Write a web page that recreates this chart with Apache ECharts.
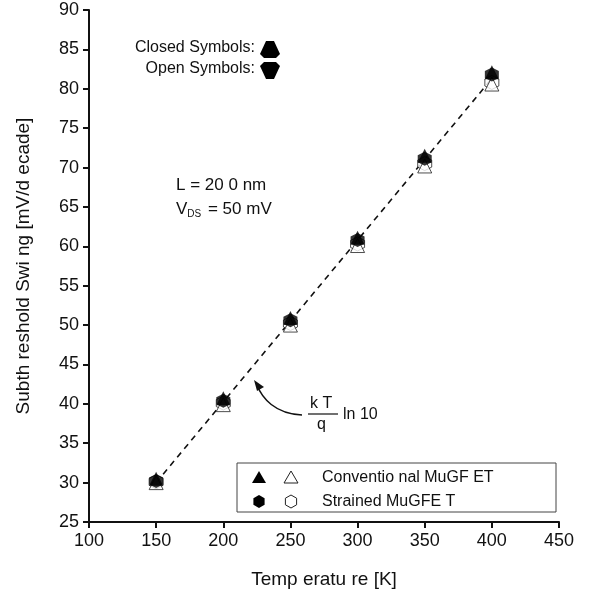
<!DOCTYPE html>
<html>
<head>
<meta charset="utf-8">
<script src="https://cdn.jsdelivr.net/npm/echarts@6/dist/echarts.min.js"></script>
<style>
  html, body { margin: 0; padding: 0; background: #fff; }
  #chart { width: 593px; height: 598px; }
</style>
</head>
<body>
<div id="chart"></div>
<script>
// data
var temps = [150, 200, 250, 300, 350, 400];
var convClosed = [30.5, 40.7, 50.9, 61.1, 71.5, 82.1];
var strainedClosed = [30.2, 40.4, 50.6, 60.8, 71.1, 81.8];
var convOpen = [30.0, 39.9, 50.0, 60.1, 70.2, 80.6];
var strainedOpen = [30.1, 40.1, 50.2, 60.3, 70.5, 80.8];
var fitX = [150, 400];
var fitY = [30.0, 81.3];

var hexagon = 'path://M0,-10 L8.66,-5 L8.66,5 L0,10 L-8.66,5 L-8.66,-5 Z';
var font = 'Liberation Sans, Arial, sans-serif';

function pairs(xs, ys) {
    return xs.map(function (x, i) { return [x, ys[i]]; });
}

var myChart = echarts.init(document.getElementById('chart'));

var option = {
    animation: false,
    backgroundColor: '#fff',
    grid: { left: 89, right: 34, top: 10, bottom: 76 },
    xAxis: {
        type: 'value', min: 100, max: 450, interval: 50,
        name: 'Temp eratu re [K]', nameLocation: 'middle', nameGap: 48,
        nameTextStyle: { fontFamily: font, fontSize: 19, color: '#111' },
        axisLine: { onZero: false, lineStyle: { color: '#111', width: 2 } },
        axisTick: { show: true, length: 6, lineStyle: { color: '#111', width: 2 } },
        axisLabel: { fontFamily: font, fontSize: 18, color: '#111', margin: 10 },
        splitLine: { show: false }
    },
    yAxis: {
        type: 'value', min: 25, max: 90, interval: 5,
        name: 'Subth reshold Swi ng [mV/d ecade]', nameLocation: 'middle', nameGap: 56,
        nameTextStyle: { fontFamily: font, fontSize: 19, color: '#111' },
        axisLine: { show: true, onZero: false, lineStyle: { color: '#111', width: 2 } },
        axisTick: { show: true, length: 6, lineStyle: { color: '#111', width: 2 } },
        axisLabel: { fontFamily: font, fontSize: 18, color: '#111', margin: 10 },
        splitLine: { show: false }
    },
    series: [
        {
            type: 'line', data: pairs(fitX, fitY), symbol: 'none', z: 1,
            lineStyle: { color: '#111', width: 1.6, type: [6, 5] }
        },
        {
            type: 'scatter', data: pairs(temps, strainedOpen), symbol: hexagon, symbolSize: 14, z: 2,
            itemStyle: { color: '#fff', borderColor: '#222', borderWidth: 1 }
        },
        {
            type: 'scatter', data: pairs(temps, convOpen), symbol: 'triangle', symbolSize: 14, z: 3,
            itemStyle: { color: '#fff', borderColor: '#222', borderWidth: 1 }
        },
        {
            type: 'scatter', data: pairs(temps, strainedClosed), symbol: hexagon, symbolSize: 14, z: 4,
            itemStyle: { color: '#000' }
        },
        {
            type: 'scatter', data: pairs(temps, convClosed), symbol: 'triangle', symbolSize: 14, z: 5,
            itemStyle: { color: '#000' }
        }
    ],
    graphic: [
        // closed / open key top-left
        { type: 'text', x: 255, y: 40, style: { text: 'Closed Symbols:', font: '16px ' + font, fill: '#111', align: 'right' } },
        { type: 'text', x: 255, y: 61, style: { text: 'Open Symbols:', font: '16px ' + font, fill: '#111', align: 'right' } },
        { type: 'polygon', shape: { points: [[266, 41], [274, 41], [280, 54], [276, 58], [264, 58], [260, 54]] }, style: { fill: '#000' } },
        { type: 'polygon', shape: { points: [[264, 62], [276, 62], [280, 66], [274, 79], [266, 79], [260, 66]] }, style: { fill: '#000' } },

        // L and VDS text
        { type: 'text', x: 176, y: 177, style: { text: 'L = 20 0 nm', font: '17px ' + font, fill: '#111' } },
        {
            type: 'text', x: 176, y: 199,
            style: {
                text: '{v|V}{s|DS}{v| = 50 mV}', fill: '#111',
                rich: {
                    v: { font: '17px ' + font, fill: '#111' },
                    s: { font: '10px ' + font, fill: '#111', padding: [10, 2, 0, 0] }
                }
            }
        },

        // kT/q ln 10 annotation
        { type: 'text', x: 310, y: 396, style: { text: 'k T', font: '16px ' + font, fill: '#111' } },
        { type: 'line', shape: { x1: 308, y1: 414, x2: 338, y2: 414 }, style: { stroke: '#111', lineWidth: 1.2 } },
        { type: 'text', x: 317, y: 417, style: { text: 'q', font: '16px ' + font, fill: '#111' } },
        { type: 'text', x: 343, y: 407, style: { text: 'ln 10', font: '16px ' + font, fill: '#111' } },
        { type: 'bezierCurve', shape: { x1: 302, y1: 415, x2: 257, y2: 385, cpx1: 275, cpy1: 414, cpx2: 262, cpy2: 398 }, style: { stroke: '#111', lineWidth: 1.5, fill: null } },
        { type: 'polygon', shape: { points: [[254, 380], [264, 387], [257, 391]] }, style: { fill: '#111' } },

        // bottom legend box
        { type: 'rect', shape: { x: 237, y: 463, width: 319, height: 49 }, style: { fill: '#fff', stroke: '#444', lineWidth: 1 }, z: 10 },
        { type: 'polygon', shape: { points: [[259, 471], [266, 483], [252, 483]] }, style: { fill: '#000' }, z: 11 },
        { type: 'polygon', shape: { points: [[291, 471], [298, 483], [284, 483]] }, style: { fill: '#fff', stroke: '#222', lineWidth: 1 }, z: 11 },
        { type: 'polygon', shape: { points: [[259, 495], [264.6, 498.2], [264.6, 504.8], [259, 508], [253.4, 504.8], [253.4, 498.2]] }, style: { fill: '#000' }, z: 11 },
        { type: 'polygon', shape: { points: [[291, 495], [296.6, 498.2], [296.6, 504.8], [291, 508], [285.4, 504.8], [285.4, 498.2]] }, style: { fill: '#fff', stroke: '#222', lineWidth: 1 }, z: 11 },
        { type: 'text', x: 322, y: 470, style: { text: 'Conventio nal MuGF ET', font: '16px ' + font, fill: '#111' }, z: 11 },
        { type: 'text', x: 322, y: 494, style: { text: 'Strained MuGFE T', font: '16px ' + font, fill: '#111' }, z: 11 }
    ]
};

myChart.setOption(option);

window.addEventListener('resize', function () {
    myChart.resize();
});
</script>
</body>
</html>
